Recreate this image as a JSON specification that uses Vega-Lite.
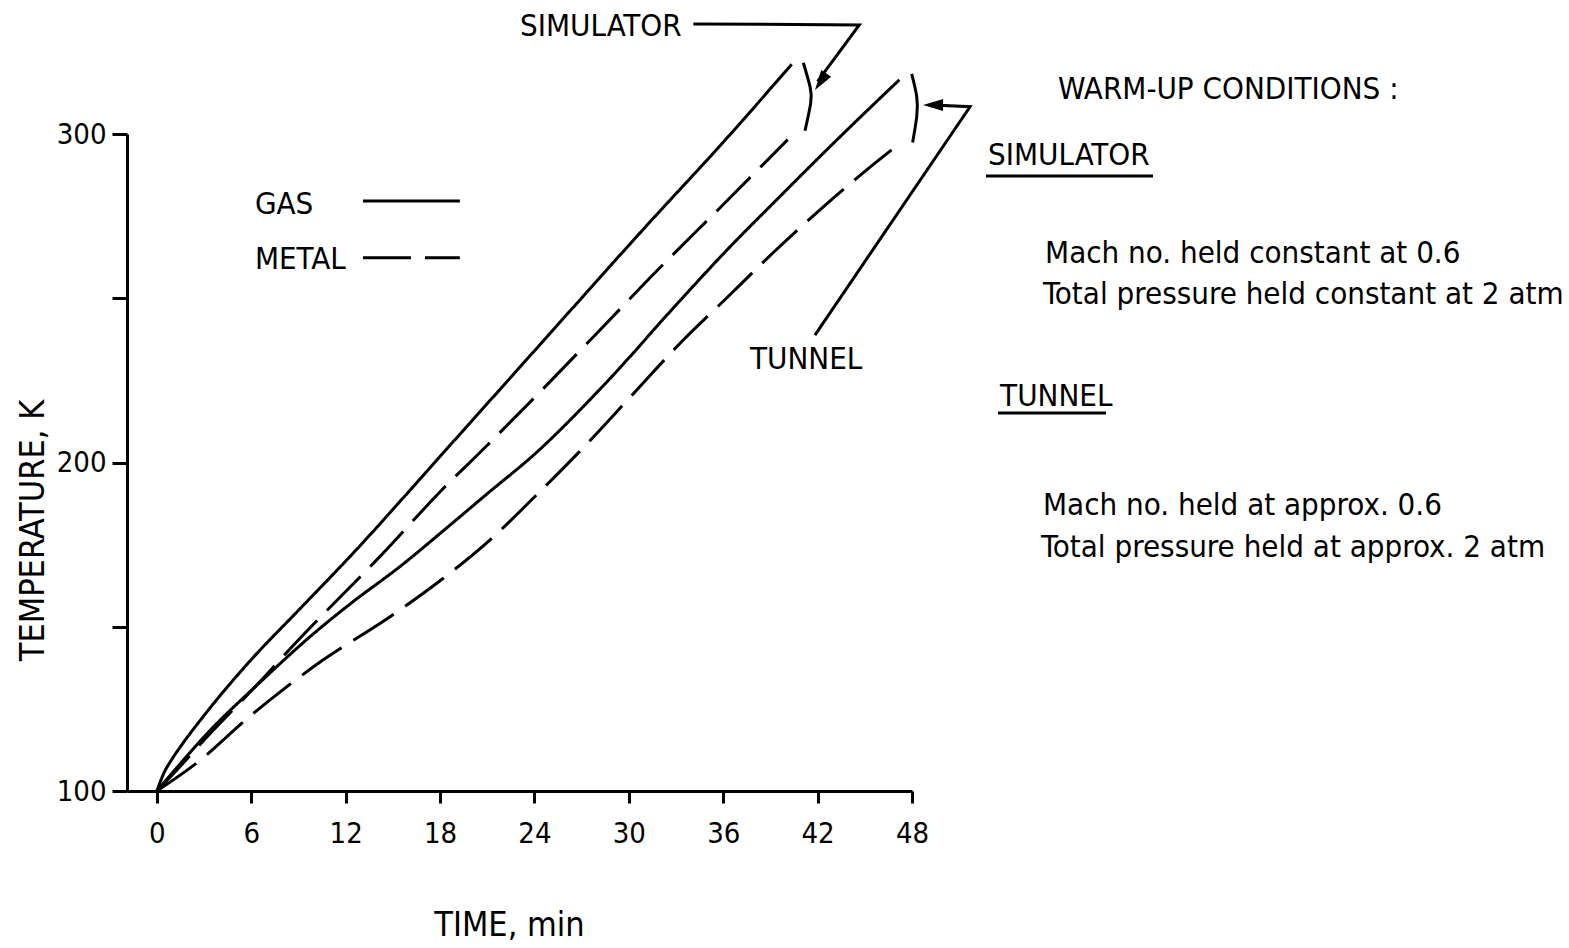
{
  "$schema": "https://vega.github.io/schema/vega-lite/v6.json",
  "width": 785,
  "height": 657,
  "autosize": {"type": "none"},
  "padding": {"left": 127, "top": 134, "right": 657, "bottom": 157},
  "background": "white",
  "config": {
    "view": {"stroke": null},
    "font": "DejaVu Sans Condensed",
    "axis": {
      "domainColor": "black", "domainWidth": 3, "tickColor": "black", "tickWidth": 3,
      "labelColor": "black", "titleColor": "black", "labelFont": "DejaVu Sans Condensed",
      "titleFont": "DejaVu Sans Condensed", "labelFontSize": 29, "titleFontSize": 34,
      "titleFontWeight": "normal", "grid": false, "labelFlush": false
    }
  },
  "datasets": {
    "curves": [
      {"facility": "SIMULATOR", "material": "GAS", "t": 0, "T": 100},
      {"facility": "SIMULATOR", "material": "GAS", "t": 0.4, "T": 105},
      {"facility": "SIMULATOR", "material": "GAS", "t": 1, "T": 110},
      {"facility": "SIMULATOR", "material": "GAS", "t": 1.5, "T": 113.5},
      {"facility": "SIMULATOR", "material": "GAS", "t": 3, "T": 123},
      {"facility": "SIMULATOR", "material": "GAS", "t": 6, "T": 140},
      {"facility": "SIMULATOR", "material": "GAS", "t": 9, "T": 155},
      {"facility": "SIMULATOR", "material": "GAS", "t": 12.3, "T": 171.5},
      {"facility": "SIMULATOR", "material": "GAS", "t": 18.4, "T": 204},
      {"facility": "SIMULATOR", "material": "GAS", "t": 24, "T": 234},
      {"facility": "SIMULATOR", "material": "GAS", "t": 31.3, "T": 273},
      {"facility": "SIMULATOR", "material": "GAS", "t": 36, "T": 297.5},
      {"facility": "SIMULATOR", "material": "GAS", "t": 40.35, "T": 321.2},
      {"facility": "SIMULATOR", "material": "METAL", "t": 0, "T": 100},
      {"facility": "SIMULATOR", "material": "METAL", "t": 1, "T": 105},
      {"facility": "SIMULATOR", "material": "METAL", "t": 3, "T": 115.5},
      {"facility": "SIMULATOR", "material": "METAL", "t": 6.3, "T": 132},
      {"facility": "SIMULATOR", "material": "METAL", "t": 8.8, "T": 145},
      {"facility": "SIMULATOR", "material": "METAL", "t": 14.2, "T": 171.5},
      {"facility": "SIMULATOR", "material": "METAL", "t": 18.6, "T": 194},
      {"facility": "SIMULATOR", "material": "METAL", "t": 20.1, "T": 201},
      {"facility": "SIMULATOR", "material": "METAL", "t": 28, "T": 239.5},
      {"facility": "SIMULATOR", "material": "METAL", "t": 31.3, "T": 256},
      {"facility": "SIMULATOR", "material": "METAL", "t": 36.1, "T": 279},
      {"facility": "SIMULATOR", "material": "METAL", "t": 40.1, "T": 298.3},
      {"facility": "TUNNEL", "material": "GAS", "t": 0, "T": 100},
      {"facility": "TUNNEL", "material": "GAS", "t": 1.25, "T": 107},
      {"facility": "TUNNEL", "material": "GAS", "t": 3, "T": 116.5},
      {"facility": "TUNNEL", "material": "GAS", "t": 6.76, "T": 134},
      {"facility": "TUNNEL", "material": "GAS", "t": 9.5, "T": 146},
      {"facility": "TUNNEL", "material": "GAS", "t": 12.3, "T": 157},
      {"facility": "TUNNEL", "material": "GAS", "t": 15.5, "T": 168.5},
      {"facility": "TUNNEL", "material": "GAS", "t": 18.4, "T": 180},
      {"facility": "TUNNEL", "material": "GAS", "t": 21, "T": 190.5},
      {"facility": "TUNNEL", "material": "GAS", "t": 24, "T": 202.5},
      {"facility": "TUNNEL", "material": "GAS", "t": 28.4, "T": 223.5},
      {"facility": "TUNNEL", "material": "GAS", "t": 33.2, "T": 249},
      {"facility": "TUNNEL", "material": "GAS", "t": 36.2, "T": 264.5},
      {"facility": "TUNNEL", "material": "GAS", "t": 39.4, "T": 280},
      {"facility": "TUNNEL", "material": "GAS", "t": 43.5, "T": 299.5},
      {"facility": "TUNNEL", "material": "GAS", "t": 47.2, "T": 316.5},
      {"facility": "TUNNEL", "material": "METAL", "t": 0, "T": 100},
      {"facility": "TUNNEL", "material": "METAL", "t": 2.5, "T": 108.4},
      {"facility": "TUNNEL", "material": "METAL", "t": 5.9, "T": 122.7},
      {"facility": "TUNNEL", "material": "METAL", "t": 8, "T": 130.8},
      {"facility": "TUNNEL", "material": "METAL", "t": 10.6, "T": 140},
      {"facility": "TUNNEL", "material": "METAL", "t": 14.8, "T": 153},
      {"facility": "TUNNEL", "material": "METAL", "t": 18, "T": 164},
      {"facility": "TUNNEL", "material": "METAL", "t": 21.2, "T": 176.5},
      {"facility": "TUNNEL", "material": "METAL", "t": 24, "T": 189.5},
      {"facility": "TUNNEL", "material": "METAL", "t": 26.8, "T": 203},
      {"facility": "TUNNEL", "material": "METAL", "t": 30.3, "T": 221},
      {"facility": "TUNNEL", "material": "METAL", "t": 33.2, "T": 236},
      {"facility": "TUNNEL", "material": "METAL", "t": 36.2, "T": 250},
      {"facility": "TUNNEL", "material": "METAL", "t": 39.2, "T": 264},
      {"facility": "TUNNEL", "material": "METAL", "t": 42.4, "T": 278},
      {"facility": "TUNNEL", "material": "METAL", "t": 45.1, "T": 289},
      {"facility": "TUNNEL", "material": "METAL", "t": 47, "T": 296.3}
    ],
    "legend": [
      {"material": "GAS", "t": 13.1, "t2": 19.26, "T": 279.6, "lt": 6.23, "lT": 278.4},
      {"material": "METAL", "t": 13.1, "t2": 19.26, "T": 262.3, "lt": 6.23, "lT": 261.6}
    ],
    "brackets": [
      {"id": "SIMULATOR", "k": 1, "t": 41.09, "T": 321.7},
      {"id": "SIMULATOR", "k": 2, "t": 41.52, "T": 314.4},
      {"id": "SIMULATOR", "k": 3, "t": 41.56, "T": 309.4},
      {"id": "SIMULATOR", "k": 4, "t": 41.2, "T": 301.0},
      {"id": "TUNNEL", "k": 1, "t": 47.98, "T": 318.3},
      {"id": "TUNNEL", "k": 2, "t": 48.3, "T": 311.4},
      {"id": "TUNNEL", "k": 3, "t": 48.3, "T": 305.3},
      {"id": "TUNNEL", "k": 4, "t": 48.04, "T": 297.4}
    ],
    "arrows": [
      {"id": "SIMULATOR", "k": 1, "t": 34.1, "T": 333.5},
      {"id": "SIMULATOR", "k": 2, "t": 44.65, "T": 333.2},
      {"id": "SIMULATOR", "k": 3, "t": 42.0, "T": 316.0},
      {"id": "TUNNEL", "k": 1, "t": 49.3, "T": 308.8},
      {"id": "TUNNEL", "k": 2, "t": 51.69, "T": 308.3},
      {"id": "TUNNEL", "k": 3, "t": 41.83, "T": 238.8}
    ],
    "heads": [
      {"id": "SIMULATOR", "t": 42.19, "T": 315.9},
      {"id": "TUNNEL", "t": 49.34, "T": 308.8}
    ],
    "labels": [
      {"text": "SIMULATOR", "t": 23.08, "T": 332.6},
      {"text": "TUNNEL", "t": 37.7, "T": 231.2},
      {"text": "WARM-UP CONDITIONS :", "t": 57.28, "T": 313.4},
      {"text": "SIMULATOR", "t": 52.83, "T": 293.3},
      {"text": "Mach no. held constant at 0.6", "t": 56.46, "T": 263.5},
      {"text": "Total pressure held constant at 2 atm", "t": 56.33, "T": 251.0},
      {"text": "TUNNEL", "t": 53.6, "T": 219.9},
      {"text": "Mach no. held at approx. 0.6", "t": 56.33, "T": 186.8},
      {"text": "Total pressure held at approx. 2 atm", "t": 56.2, "T": 174.0}
    ],
    "underlines": [
      {"t": 52.7, "t2": 63.32, "T": 287.2},
      {"t": 53.47, "t2": 60.33, "T": 215.1}
    ]
  },
  "layer": [
    {
      "data": {"name": "curves"},
      "mark": {"type": "line", "interpolate": "monotone", "color": "black", "strokeWidth": 3},
      "encoding": {
        "x": {
          "field": "t", "type": "quantitative",
          "scale": {"domain": [-1.9, 48], "nice": false, "zero": false},
          "axis": {
            "values": [0, 6, 12, 18, 24, 30, 36, 42, 48], "tickSize": 12, "labelPadding": 16,
            "title": "TIME, min", "titleX": 382, "titleY": 134, "titleBaseline": "middle", "titleAnchor": "start", "titleAlign": "center"
          }
        },
        "y": {
          "field": "T", "type": "quantitative",
          "scale": {"domain": [100, 300], "nice": false, "zero": false},
          "axis": {
            "values": [100, 150, 200, 250, 300], "tickSize": 15, "labelPadding": 6,
            "labelExpr": "datum.value % 100 === 0 ? datum.label : ''",
            "title": "TEMPERATURE, K", "titleX": -94, "titleY": 396, "titleAngle": 270,
            "titleAlign": "center", "titleBaseline": "middle", "titleAnchor": "start"
          }
        },
        "strokeDash": {
          "field": "material", "type": "nominal",
          "scale": {"domain": ["GAS", "METAL"], "range": [[1, 0], [48, 14]]},
          "legend": null
        },
        "detail": {"field": "facility"}
      }
    },
    {
      "data": {"name": "legend"},
      "mark": {"type": "rule", "color": "black", "strokeWidth": 3},
      "encoding": {
        "x": {"field": "t", "type": "quantitative"},
        "x2": {"field": "t2"},
        "y": {"field": "T", "type": "quantitative"},
        "strokeDash": {"field": "material", "type": "nominal", "legend": null}
      }
    },
    {
      "data": {"name": "legend"},
      "mark": {"type": "text", "align": "left", "baseline": "middle", "fontSize": 31, "color": "black"},
      "encoding": {
        "x": {"field": "lt", "type": "quantitative"},
        "y": {"field": "lT", "type": "quantitative"},
        "text": {"field": "material"}
      }
    },
    {
      "data": {"name": "brackets"},
      "mark": {"type": "line", "interpolate": "natural", "color": "black", "strokeWidth": 3},
      "encoding": {
        "x": {"field": "t", "type": "quantitative"},
        "y": {"field": "T", "type": "quantitative"},
        "order": {"field": "k"},
        "detail": {"field": "id"}
      }
    },
    {
      "data": {"name": "arrows"},
      "mark": {"type": "line", "color": "black", "strokeWidth": 3},
      "encoding": {
        "x": {"field": "t", "type": "quantitative"},
        "y": {"field": "T", "type": "quantitative"},
        "order": {"field": "k"},
        "detail": {"field": "id"}
      }
    },
    {
      "data": {"name": "heads"},
      "transform": [{"filter": "datum.id === 'SIMULATOR'"}],
      "mark": {"type": "point", "shape": "M0,1L-0.6,-1L0.6,-1Z", "filled": true, "color": "black", "opacity": 1, "size": 400, "angle": 34},
      "encoding": {
        "x": {"field": "t", "type": "quantitative"},
        "y": {"field": "T", "type": "quantitative"}
      }
    },
    {
      "data": {"name": "heads"},
      "transform": [{"filter": "datum.id === 'TUNNEL'"}],
      "mark": {"type": "point", "shape": "M0,1L-0.6,-1L0.6,-1Z", "filled": true, "color": "black", "opacity": 1, "size": 400, "angle": 90},
      "encoding": {
        "x": {"field": "t", "type": "quantitative"},
        "y": {"field": "T", "type": "quantitative"}
      }
    },
    {
      "data": {"name": "labels"},
      "mark": {"type": "text", "align": "left", "baseline": "middle", "fontSize": 31, "color": "black"},
      "encoding": {
        "x": {"field": "t", "type": "quantitative"},
        "y": {"field": "T", "type": "quantitative"},
        "text": {"field": "text"}
      }
    },
    {
      "data": {"name": "underlines"},
      "mark": {"type": "rule", "color": "black", "strokeWidth": 3},
      "encoding": {
        "x": {"field": "t", "type": "quantitative"},
        "x2": {"field": "t2"},
        "y": {"field": "T", "type": "quantitative"}
      }
    }
  ]
}
